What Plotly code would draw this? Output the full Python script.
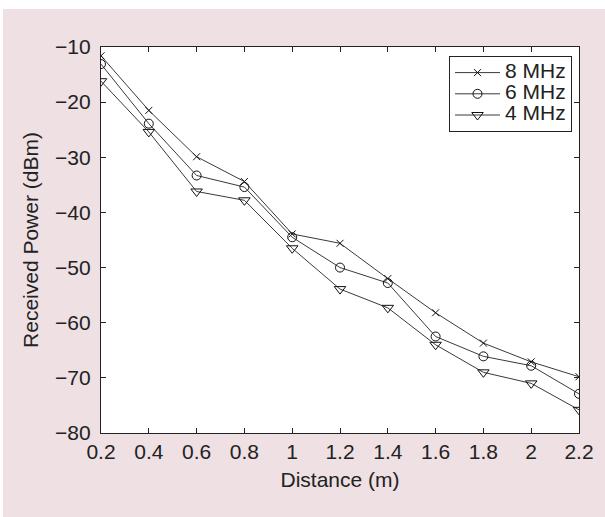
import plotly.graph_objects as go

distance = [0.2, 0.4, 0.6, 0.8, 1.0, 1.2, 1.4, 1.6, 1.8, 2.0, 2.2]
p_8mhz = [-11.6, -21.5, -29.9, -34.4, -43.9, -45.6, -52.0, -58.2, -63.7, -67.1, -69.8]
p_6mhz = [-13.1, -23.9, -33.3, -35.4, -44.5, -50.0, -52.8, -62.5, -66.1, -67.8, -72.9]
p_4mhz = [-16.2, -25.4, -36.2, -37.8, -46.5, -53.9, -57.3, -64.0, -69.0, -71.0, -75.8]
series_names = ["8 MHz", "6 MHz", "4 MHz"]
x_ticks = [0.2, 0.4, 0.6, 0.8, 1.0, 1.2, 1.4, 1.6, 1.8, 2.0, 2.2]
x_labels = ["0.2", "0.4", "0.6", "0.8", "1", "1.2", "1.4", "1.6", "1.8", "2", "2.2"]
y_ticks = [-80, -70, -60, -50, -40, -30, -20, -10]

W, H = 605, 517
L, R, T, B = 101, 26, 47, 84
pw, ph = W - L - R, H - T - B

def px_x(p):
    return (p - L) / pw

def px_y(p):
    return (H - B - p) / ph

FONT = "Liberation Sans, Arial, sans-serif"
TXT = "#222222"
LINE = "#3a3a3a"

fig = go.Figure()
styles = [("x-thin-open", 7), ("circle-open", 9), ("triangle-down-open", 10)]
for name, vals, (sym, sz) in zip(series_names, [p_8mhz, p_6mhz, p_4mhz], styles):
    fig.add_trace(go.Scatter(
        x=distance, y=vals, mode="lines+markers",
        name='<span style="font-size:21px">' + name + '</span>',
        line=dict(color=LINE, width=1),
        marker=dict(symbol=sym, size=sz, color="#111111", line=dict(width=1, color="#111111")),
    ))

# pink panel behind the chart (white margin at top/left of the page)
fig.add_shape(type="rect", xref="paper", yref="paper",
              x0=px_x(3), x1=px_x(W + 10), y0=px_y(H + 10), y1=px_y(9),
              fillcolor="#eee0e3", line=dict(width=0), layer="below")
fig.add_shape(type="rect", xref="paper", yref="paper",
              x0=0, x1=1, y0=0, y1=1,
              fillcolor="white", line=dict(width=0), layer="below")

axis_common = dict(
    showline=True, linecolor="#222222", linewidth=1.2, mirror="ticks",
    ticks="inside", ticklen=5, tickcolor="#222222", tickwidth=1,
    showgrid=False, zeroline=False,
    tickfont=dict(family=FONT, size=21, color=TXT),
)

fig.update_layout(
    width=W, height=H,
    margin=dict(l=L, r=R, t=T, b=B, autoexpand=False),
    paper_bgcolor="white", plot_bgcolor="white",
    font=dict(family=FONT, size=21, color=TXT),
    xaxis=dict(range=[0.2, 2.2], tickvals=x_ticks, ticktext=x_labels,
               title=dict(text="Distance (m)", font=dict(family=FONT, size=21, color=TXT), standoff=10),
               **axis_common),
    yaxis=dict(range=[-80, -10], tickvals=y_ticks, ticklabelstandoff=5,
               title=dict(text="Received Power (dBm)", font=dict(family=FONT, size=21, color=TXT), standoff=10),
               **axis_common),
    legend=dict(x=px_x(449), y=px_y(56), xanchor="left", yanchor="top",
                bgcolor="white", bordercolor="#222222", borderwidth=1,
                font=dict(family=FONT, size=14, color=TXT),
                tracegroupgap=0, itemwidth=45),
    showlegend=True,
)

fig.write_html("out.html",
               config={"displayModeBar": False},
               post_script="document.body.style.margin='0';document.body.style.overflow='hidden';")
